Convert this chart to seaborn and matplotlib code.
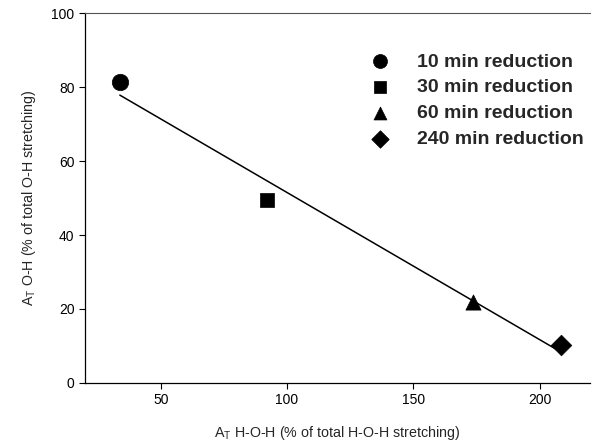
import matplotlib
matplotlib.use("Agg")
import matplotlib.pyplot as plt
import seaborn as sns
import pandas as pd

sns.set_theme(style="white")
plt.rcParams['font.family'] = ['Liberation Sans', 'DejaVu Sans']

categories = ["10 min reduction", "30 min reduction", "60 min reduction", "240 min reduction"]
x_hoh = [33.8, 92.0, 173.8, 208.4]
y_oh = [81.3, 49.5, 21.9, 10.3]
x_ticks = [50, 100, 150, 200]
y_ticks = [0, 20, 40, 60, 80, 100]

df = pd.DataFrame({"x": x_hoh, "y": y_oh, "cat": categories})

fig = plt.figure(figsize=(6.04, 4.44), dpi=100)
ax = fig.add_axes([0.1407, 0.1374, 0.977 - 0.1407, 0.9707 - 0.1374])

sns.regplot(data=df, x="x", y="y", scatter=False, ci=None, truncate=True,
            line_kws={"color": "black", "lw": 1.1}, ax=ax)
markers = {categories[0]: "o", categories[1]: "s", categories[2]: "^", categories[3]: "D"}
sizes = [140, 100, 120, 110]
for i, c in enumerate(categories):
    sns.scatterplot(data=df[df.cat == c], x="x", y="y", marker=markers[c], color="black",
                    s=sizes[i], edgecolor="black", linewidth=0.5, ax=ax, label=c, zorder=3)

ax.set_xlim(20, 220)
ax.set_ylim(0, 100)
ax.set_xticks(x_ticks)
ax.set_yticks(y_ticks)
ax.tick_params(axis="both", direction="out", length=4, width=0.8, labelsize=10, color="black",
               labelcolor="black", bottom=True, left=True)
ax.set_xlabel("A$_\\mathregular{T}$ H-O-H (% of total H-O-H stretching)", fontsize=10.3, labelpad=12)
ax.set_ylabel("A$_\\mathregular{T}$ O-H (% of total O-H stretching)", fontsize=10.3, labelpad=10)

for side in ["left", "bottom"]:
    ax.spines[side].set_color("black")
    ax.spines[side].set_linewidth(0.9)
ax.spines["top"].set_color("#555555")
ax.spines["top"].set_linewidth(0.8)
ax.spines["right"].set_visible(False)

leg = ax.legend(loc="upper left", bbox_to_anchor=(0.564, 0.892), frameon=False,
                prop={"weight": "bold", "size": 14}, handlelength=1.0, handletextpad=1.4,
                labelspacing=0.42, borderaxespad=0, borderpad=0, markerscale=0.85)

fig.savefig("out.png", dpi=100)
